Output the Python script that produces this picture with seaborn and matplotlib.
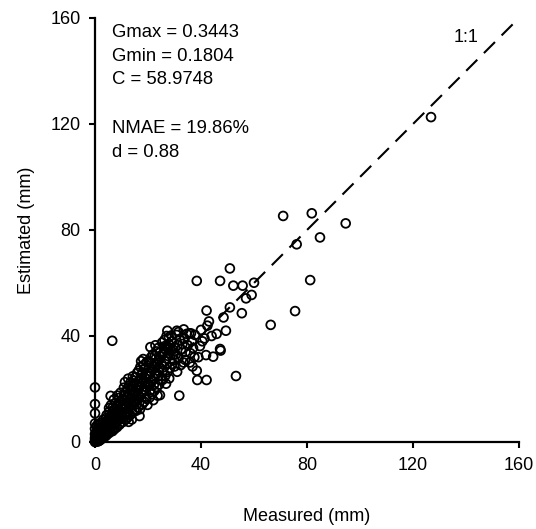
import matplotlib
matplotlib.use("Agg")
import matplotlib.pyplot as plt
import seaborn as sns
import pandas as pd

# ---- data ----
pts_axis = [(0, 20.6), (0, 14.3), (0, 10.8), (0, 7.0), (0, 5.0), (0, 3.0), (0, 1.5), (0, 0.5), (0, 0.0)]
pts_0_3 = [(0.2, 0.1), (0.5, 0.4), (0.8, 0.9), (1.0, 0.6), (1.2, 1.5), (1.5, 1.1), (1.8, 2.2), (2.0, 1.6),
           (2.3, 2.8), (2.6, 2.0), (2.9, 3.4), (0.4, 1.2), (0.7, 2.0), (1.1, 2.8), (1.4, 3.6), (0.3, 2.5),
           (0.6, 4.0), (1.0, 4.8), (1.6, 0.5), (2.2, 0.9), (2.8, 1.5), (3.0, 2.4), (0.1, 0.8), (0.9, 0.2),
           (1.3, 0.3), (2.5, 4.2), (1.9, 4.5), (2.4, 5.5), (0.5, 6.0), (1.2, 6.8),
           (0.3, 0.6), (0.6, 1.5), (1.7, 1.4), (2.1, 3.6), (2.7, 2.5), (1.5, 5.4), (0.8, 3.1), (2.2, 7.2)]
pts_3_6 = [(3.2, 3.0), (3.5, 4.1), (3.8, 2.8), (4.0, 4.9), (4.2, 3.6), (4.5, 5.8), (4.8, 4.2), (5.0, 6.3),
           (5.3, 4.9), (5.6, 7.1), (5.9, 5.5), (3.3, 5.6), (3.7, 6.5), (4.1, 7.2), (4.6, 8.0), (5.1, 8.6),
           (5.5, 9.3), (3.6, 1.9), (4.3, 2.5), (5.2, 3.3), (5.8, 4.0), (5.9, 17.4), (6.5, 38.2), (3.1, 8.4),
           (4.4, 10.2), (5.4, 11.5),
           (3.4, 3.7), (3.9, 4.4), (4.7, 6.9), (5.0, 5.2), (5.7, 6.2), (4.0, 9.0), (3.0, 6.6), (5.3, 12.8)]
pts_6_10 = [(6.2, 6.0), (6.5, 7.8), (6.8, 5.2), (7.0, 8.5), (7.3, 6.6), (7.6, 9.2), (7.9, 7.4), (8.2, 10.0),
            (8.5, 8.0), (8.8, 10.8), (9.1, 8.7), (9.4, 11.5), (9.7, 9.5), (6.3, 10.5), (6.9, 11.8), (7.5, 12.6),
            (8.1, 13.5), (8.7, 14.2), (9.3, 15.0), (9.9, 12.8), (6.6, 4.1), (7.4, 4.9), (8.3, 5.6), (9.2, 6.5),
            (9.8, 7.2), (7.1, 16.0), (8.4, 17.5), (9.6, 18.6), (6.0, 13.9),
            (6.4, 8.9), (7.2, 10.1), (8.0, 11.2), (8.9, 12.3), (9.5, 10.4), (6.7, 13.0), (7.8, 14.8), (9.0, 16.6)]
pts_10_15 = [(10.2, 10.3), (10.5, 12.4), (10.8, 9.0), (11.1, 13.3), (11.4, 10.8), (11.7, 14.2), (12.0, 11.6),
             (12.3, 15.1), (12.6, 12.5), (12.9, 16.0), (13.2, 13.4), (13.5, 16.8), (13.8, 14.2), (14.1, 17.7),
             (14.4, 15.0), (14.7, 18.4), (10.4, 16.1), (11.0, 17.6), (11.6, 18.8), (12.2, 20.1), (12.8, 21.3),
             (13.4, 22.5), (14.0, 20.0), (14.6, 23.2), (10.6, 7.6), (11.5, 8.4), (12.4, 9.3), (13.3, 10.2),
             (14.2, 11.0), (14.9, 12.2), (12.7, 7.6), (13.9, 8.5), (11.3, 22.6), (12.5, 23.9), (14.3, 24.8),
             (10.9, 20.5),
             (10.3, 13.9), (11.2, 15.6), (12.1, 17.2), (13.0, 18.6), (13.7, 19.8), (14.5, 21.0), (11.8, 12.9)]
pts_15_20 = [(15.1, 15.5), (15.4, 18.6), (15.7, 14.2), (16.0, 19.5), (16.3, 16.2), (16.6, 20.4), (16.9, 17.1),
             (17.2, 21.3), (17.5, 18.0), (17.8, 22.2), (18.1, 18.9), (18.4, 23.1), (18.7, 19.8), (19.0, 24.0),
             (19.3, 20.7), (19.6, 24.9), (19.9, 21.6), (15.3, 24.5), (15.9, 26.1), (16.5, 27.0), (17.1, 28.3),
             (17.7, 25.6), (18.3, 29.0), (18.9, 27.8), (19.5, 30.2), (15.5, 11.8), (16.2, 13.0), (17.0, 12.4),
             (17.8, 14.1), (18.6, 15.2), (19.4, 16.3), (16.8, 9.8), (18.2, 31.3), (17.4, 30.5), (19.8, 14.0),
             (15.6, 21.4), (16.4, 22.9), (17.3, 24.1), (18.0, 26.2), (19.1, 22.5), (16.1, 17.8)]
pts_20_25 = [(20.2, 22.0), (20.5, 25.8), (20.8, 19.5), (21.1, 26.6), (21.4, 23.0), (21.7, 27.5), (22.0, 24.1),
             (22.3, 28.3), (22.6, 25.2), (22.9, 29.1), (23.2, 26.0), (23.5, 30.0), (23.8, 27.0), (24.1, 31.0),
             (24.4, 28.1), (24.7, 32.2), (20.3, 30.4), (21.0, 31.8), (21.8, 33.0), (22.5, 32.4), (23.1, 34.2),
             (23.9, 35.5), (24.6, 34.0), (20.6, 16.8), (21.5, 18.0), (22.4, 19.3), (23.3, 20.5), (24.2, 21.7),
             (24.9, 23.4), (22.0, 15.8), (23.6, 17.5), (24.5, 17.7), (20.9, 35.8), (22.8, 36.5),
             (20.4, 28.0), (21.3, 29.6), (22.2, 21.5), (23.0, 31.6), (24.0, 25.0)]
pts_25_30 = [(25.1, 29.5), (25.4, 33.0), (25.7, 27.0), (26.0, 34.0), (26.3, 30.5), (26.6, 35.0), (26.9, 31.5),
             (27.2, 36.0), (27.5, 32.5), (27.8, 37.0), (28.1, 33.5), (28.4, 35.5), (28.7, 34.5), (29.0, 38.0),
             (29.3, 35.0), (29.6, 33.0), (25.3, 37.5), (26.2, 38.5), (27.0, 40.0), (27.3, 42.0), (27.9, 39.5),
             (28.8, 40.2), (25.6, 23.5), (26.5, 25.0), (27.4, 26.5), (28.3, 28.0), (29.2, 29.5), (29.9, 31.0),
             (26.8, 22.0), (28.0, 24.0), (27.6, 35.8), (26.4, 36.2)]
pts_30_40 = [(30.2, 35.5), (30.5, 33.0), (30.8, 40.4), (31.1, 36.5), (31.5, 31.5), (31.8, 17.5), (32.0, 38.5),
             (32.5, 35.0), (33.0, 37.0), (33.4, 30.0), (33.8, 39.0), (34.2, 34.0), (34.6, 40.8), (35.0, 36.5),
             (35.5, 41.0), (36.0, 33.5), (36.5, 38.0), (37.0, 35.5), (37.7, 40.4), (38.4, 26.9), (38.6, 23.4),
             (39.0, 32.0), (39.6, 36.2), (40.0, 42.3), (41.3, 39.1), (42.1, 23.4), (42.1, 49.6), (42.4, 43.9),
             (41.9, 32.8), (30.0, 28.5), (31.0, 26.5), (32.3, 29.0), (34.0, 31.0), (35.8, 30.0), (36.8, 28.5),
             (37.5, 32.0), (30.9, 42.0), (31.5, 41.5), (33.5, 42.5), (36.2, 41.0)]
pts_40_60 = [(44.6, 32.2), (45.9, 40.8), (47.2, 35.1), (47.4, 34.5), (49.4, 42.0), (50.9, 50.8), (55.4, 48.6),
             (38.4, 60.8), (47.2, 60.8), (50.9, 65.5), (52.2, 59.0), (55.7, 59.0), (60.0, 60.1), (59.1, 55.5),
             (57.0, 54.2), (53.2, 24.9), (43.0, 45.5), (48.5, 47.0), (40.5, 38.0), (44.0, 40.0)]
pts_60_up = [(66.3, 44.2), (71.0, 85.3), (81.8, 86.3), (94.6, 82.5), (84.9, 77.2), (76.1, 74.6), (81.2, 61.1),
             (75.5, 49.4), (126.8, 122.6)]

all_pts = (pts_axis + pts_0_3 + pts_3_6 + pts_6_10 + pts_10_15 + pts_15_20 + pts_20_25
           + pts_25_30 + pts_30_40 + pts_40_60 + pts_60_up)
measured = [p[0] for p in all_pts]
estimated = [p[1] for p in all_pts]

one_to_one = [0, 160]
ticks = [0, 40, 80, 120, 160]
stats_lines = ["Gmax = 0.3443", "Gmin = 0.1804", "C = 58.9748", "NMAE = 19.86%", "d = 0.88"]

df = pd.DataFrame({"Measured (mm)": measured, "Estimated (mm)": estimated})

# ---- plot ----
sns.set_style("ticks")
plt.rcParams["font.family"] = ["Liberation Sans", "DejaVu Sans"]
plt.rcParams["text.color"] = "black"
plt.rcParams["axes.labelcolor"] = "black"

fig = plt.figure(figsize=(5.36, 5.29), dpi=100)
ax = fig.add_axes([95 / 536, 1 - 442 / 529, 424 / 536, 424 / 529])

sns.scatterplot(data=df, x="Measured (mm)", y="Estimated (mm)", ax=ax, marker="o",
                s=40, linewidth=1.3, edgecolor="black", clip_on=False, zorder=3)
for c in ax.collections:
    c.set_facecolor("none")
    c.set_edgecolor("black")

ax.plot(one_to_one, one_to_one, color="black", lw=1.5, dashes=(7.5, 4.5), clip_on=False, zorder=2)

ax.set_xlim(0, 160)
ax.set_ylim(0, 160)
ax.set_xticks(ticks)
ax.set_yticks(ticks)
ax.tick_params(direction="out", length=4.5, width=1.5, labelsize=13, colors="black", pad=6)
for side in ["top", "right"]:
    ax.spines[side].set_visible(False)
for side in ["left", "bottom"]:
    ax.spines[side].set_linewidth(1.6)
    ax.spines[side].set_color("black")

ax.set_xlabel("Measured (mm)", fontsize=13, labelpad=25)
ax.set_ylabel("Estimated (mm)", fontsize=13, labelpad=11)

ypos = [0.965, 0.909, 0.854, 0.739, 0.683]
for txt, yy in zip(stats_lines, ypos):
    ax.text(0.04, yy, txt, transform=ax.transAxes, fontsize=13.3, va="center", ha="left")
ax.text(140, 152.5, "1:1", fontsize=13, va="center", ha="center")

fig.savefig("out.png", dpi=100)
